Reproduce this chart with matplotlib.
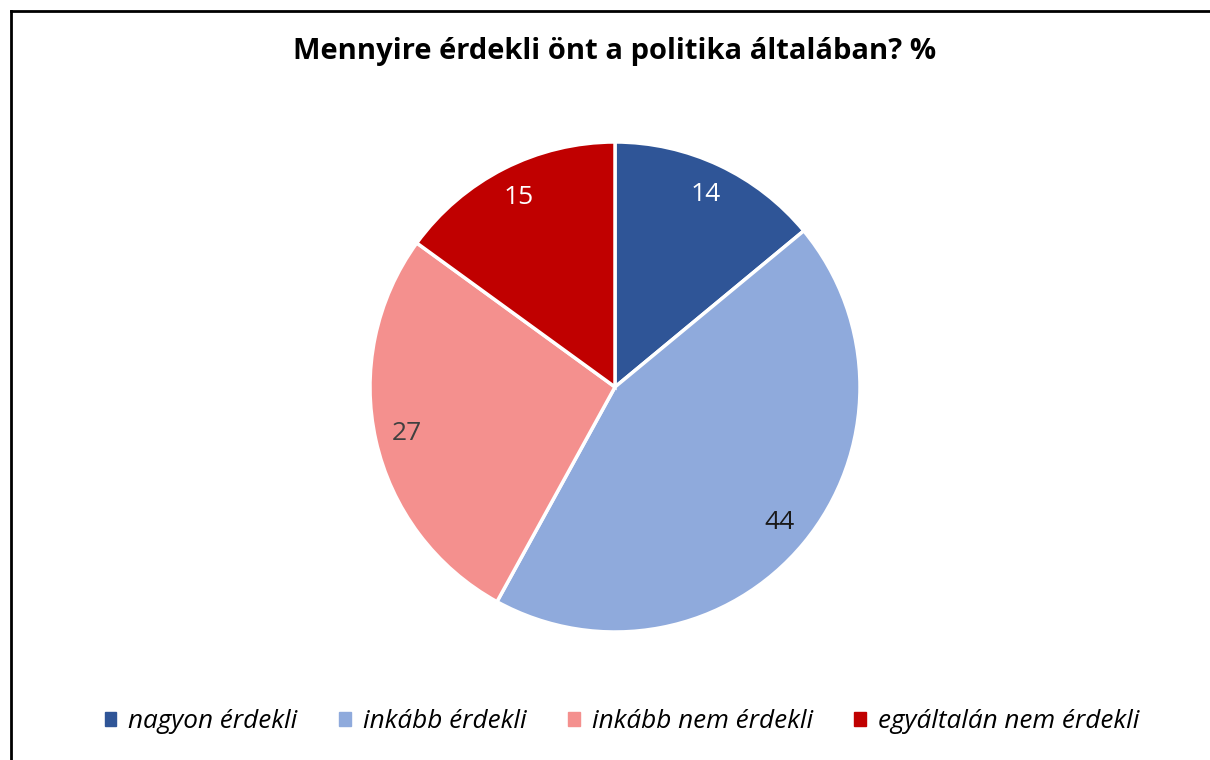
import matplotlib
matplotlib.use("Agg")
import matplotlib.pyplot as plt
from matplotlib.lines import Line2D
from matplotlib.patches import Patch

plt.rcParams['font.family'] = ['Open Sans', 'DejaVu Sans']

categories = ["nagyon érdekli", "inkább érdekli", "inkább nem érdekli", "egyáltalán nem érdekli"]
values = [14, 44, 27, 15]
colors = ["#2F5597", "#8FAADC", "#F4908E", "#C00000"]
label_colors = ["white", "#1a1a1a", "#404040", "white"]

fig = plt.figure(figsize=(12.1, 7.6), dpi=100)

# frame (only left and top visible in the crop)
fig.add_artist(Line2D([11 / 1210, 11 / 1210], [0, 1 - 11 / 760], color="black", lw=2, transform=fig.transFigure))
fig.add_artist(Line2D([11 / 1210, 1], [1 - 11 / 760, 1 - 11 / 760], color="black", lw=2, transform=fig.transFigure))

fig.text(615 / 1210, 1 - 52 / 760, "Mennyire érdekli önt a politika általában? %",
         ha="center", va="center", fontsize=21, fontweight="bold")

r = 245
cx, cy = 615, 387
pax = fig.add_axes([(cx - r) / 1210, 1 - (cy + r) / 760, 2 * r / 1210, 2 * r / 760])
wedges, texts = pax.pie(values, colors=colors, startangle=90, counterclock=False,
                        wedgeprops=dict(edgecolor="white", linewidth=2.5),
                        labels=[str(v) for v in values], labeldistance=0.87)
for t, c in zip(texts, label_colors):
    t.set_color(c)
    t.set_fontsize(19)
    t.set_ha("center")
    t.set_va("center")
pax.set_xlim(-1, 1)
pax.set_ylim(-1, 1)
pax.set_aspect("equal")

handles = [Patch(facecolor=c, edgecolor=c) for c in colors]
leg = fig.legend(handles, categories, loc="center", bbox_to_anchor=(622 / 1210, 1 - 722 / 760),
                 ncol=4, frameon=False, handlelength=0.45, handleheight=0.45,
                 handletextpad=0.45, columnspacing=1.6,
                 prop=dict(size=18.8, style="italic", family=["Open Sans", "DejaVu Sans"]))

fig.savefig("out.png", dpi=100)
